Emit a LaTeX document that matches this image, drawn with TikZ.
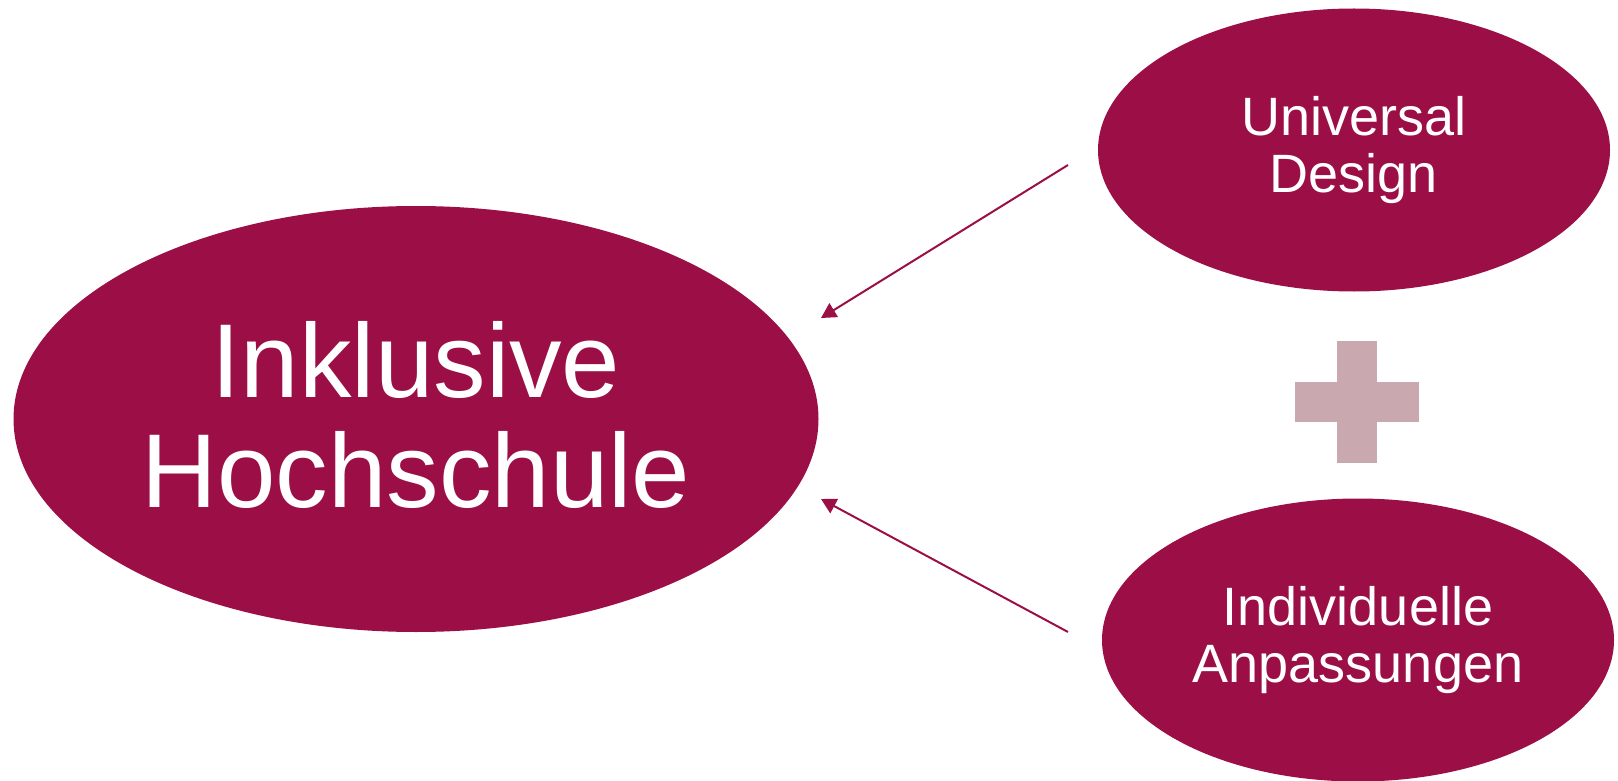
\documentclass[tikz,border=0pt]{standalone}
\usepackage{fontspec}
\setmainfont{Liberation Sans}
\usepackage{xcolor}
\usetikzlibrary{shapes.geometric, arrows.meta}

\definecolor{weinrot}{RGB}{155,14,70}
\definecolor{altrosa}{RGB}{201,168,175}

\begin{document}
\begin{tikzpicture}[
    x=1pt, y=-1pt,
    every node/.style={ellipse, fill=weinrot, text=white, align=center, inner sep=0pt},
    bigoval/.style={minimum width=805pt, minimum height=426pt, text depth=9pt, font=\fontsize{105}{110}\selectfont},
    smalloval/.style={minimum width=512pt, minimum height=283pt, font=\fontsize{54}{57}\selectfont},
    pfeil/.style={draw=weinrot, line width=2pt, -{Triangle[length=15pt, width=16pt]}}
  ]
  \useasboundingbox (0,0) rectangle (1618,781);

  % die drei Ovale
  \node[bigoval] (hochschule) at (416,419) {Inklusive\\Hochschule};
  \node[smalloval] (design) at (1354,150) {Universal\\Design};
  \node[smalloval] (anpassung) at (1358,640) {Individuelle\\Anpassungen};

  % Pluszeichen zwischen den kleinen Ovalen
  \fill[altrosa] (1337,341) rectangle (1377,463);
  \fill[altrosa] (1295,382) rectangle (1419,422);

  % Pfeile zur Hochschule
  \coordinate (design-aus) at (1068,165);
  \coordinate (anpassung-aus) at (1068,632);
  \coordinate (hs-oben) at (821,318);
  \coordinate (hs-unten) at (821,499);
  \draw[pfeil] (design-aus) -- (hs-oben);
  \draw[pfeil] (anpassung-aus) -- (hs-unten);
\end{tikzpicture}
\end{document}
